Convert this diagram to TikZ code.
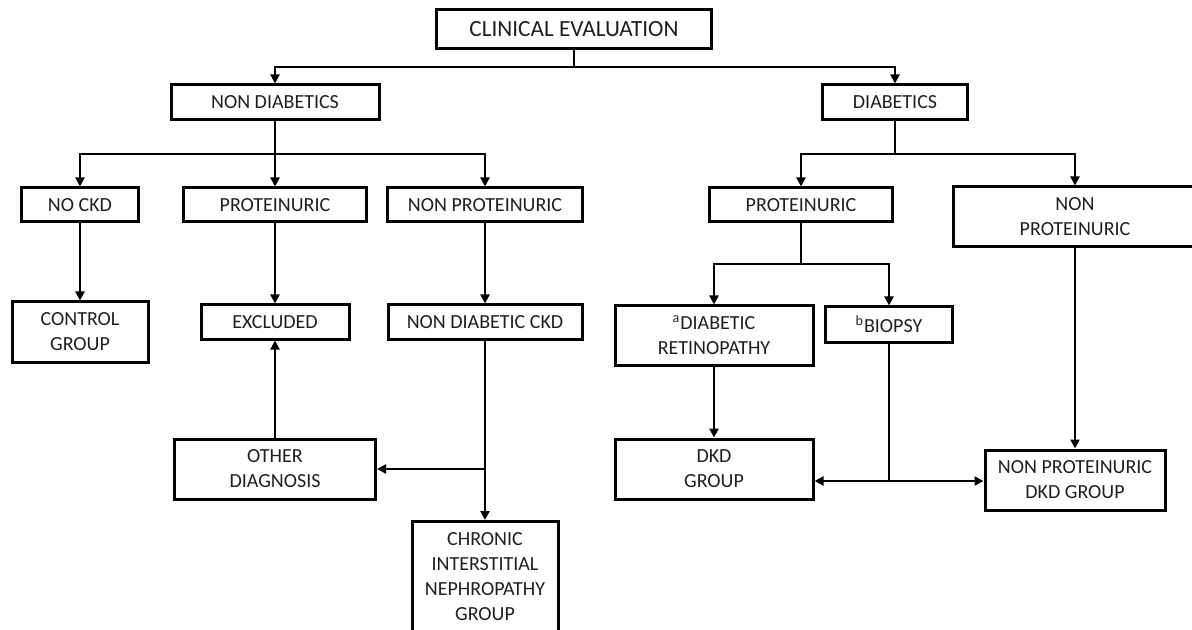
\documentclass[tikz,border=0pt]{standalone}
\usepackage{fontspec}
\setmainfont{Carlito}
\usetikzlibrary{arrows.meta}

\begin{document}
\begin{tikzpicture}[x=.5pt,y=-.5pt,font=\fontsize{10}{12.5}\selectfont,text=black!88,
  box/.style={draw,line width=1.5pt,align=center,inner sep=0pt},
  link/.style={line width=1.35pt,-{Triangle[length=4.5pt,width=4.5pt]}}]
\useasboundingbox (0,0) rectangle (1192,630);
\node[box,minimum width=137.5pt,minimum height=19.5pt,font=\fontsize{11.6}{14}\selectfont] (eval) at (574,29.5) {CLINICAL EVALUATION};
\node[box,minimum width=104pt,minimum height=17.5pt] (nondiab) at (275,102.5) {NON DIABETICS};
\node[box,minimum width=72.5pt,minimum height=17.5pt] (diab) at (895,102.5) {DIABETICS};
\node[box,minimum width=58.5pt,minimum height=17pt] (nockd) at (80,205) {NO CKD};
\node[box,minimum width=91.5pt,minimum height=17pt] (protL) at (275,205) {PROTEINURIC};
\node[box,minimum width=97.5pt,minimum height=17pt] (nonprotL) at (485,205) {NON PROTEINURIC};
\node[box,minimum width=91.5pt,minimum height=17pt] (protR) at (801,205) {PROTEINURIC};
\node[box,minimum width=122pt,minimum height=30pt] (nonprotR) at (1075,217) {NON\\PROTEINURIC};
\node[box,minimum width=68pt,minimum height=30pt] (control) at (80,332) {CONTROL\\GROUP};
\node[box,minimum width=74pt,minimum height=17pt] (excluded) at (275,322) {EXCLUDED};
\node[box,minimum width=97pt,minimum height=17pt] (ndckd) at (485,322) {NON DIABETIC CKD};
\node[box,minimum width=100.5pt,minimum height=30pt] (other) at (275,469) {OTHER\\DIAGNOSIS};
\node[box,minimum width=73pt,minimum height=55pt] (chronic) at (485,576.5) {CHRONIC\\INTERSTITIAL\\NEPHROPATHY\\GROUP};
\node[box,minimum width=99pt,minimum height=29.5pt] (retino) at (714,335.5) {\textsuperscript{a}DIABETIC\\RETINOPATHY};
\node[box,minimum width=63.5pt,minimum height=17.5pt] (biopsy) at (889,324.5) {\textsuperscript{b}BIOPSY};
\node[box,minimum width=99pt,minimum height=30pt] (dkd) at (714,469) {DKD\\GROUP};
\node[box,minimum width=90pt,minimum height=30pt] (npdkd) at (1075,480) {NON PROTEINURIC\\DKD GROUP};
\coordinate (jtop) at (574,67);\coordinate (jnd) at (275,154);\coordinate (jd) at (895,154);
\coordinate (jpr) at (801,264);\coordinate (jcd) at (485,469);\coordinate (jbx) at (889,481);
\draw[line width=1.35pt] (eval.south)--(jtop);
\draw[link] (jtop)-|(nondiab.north);\draw[link] (jtop)-|(diab.north);
\draw[line width=1.35pt] (nondiab.south)--(jnd);
\draw[link] (jnd)-|(nockd.north);\draw[link] (jnd)--(protL.north);\draw[link] (jnd)-|(nonprotL.north);
\draw[link] (nockd)--(control);\draw[link] (protL)--(excluded);\draw[link] (nonprotL)--(ndckd);
\draw[link] (ndckd)--(chronic);\draw[link] (jcd)--(other.east);\draw[link] (other)--(excluded);
\draw[line width=1.35pt] (diab.south)--(jd);
\draw[link] (jd)-|(protR.north);\draw[link] (jd)-|(nonprotR.north);
\draw[line width=1.35pt] (protR.south)--(jpr);
\draw[link] (jpr)-|(retino.north);\draw[link] (jpr)-|(biopsy.north);
\draw[link] (retino)--(dkd);\draw[link] (nonprotR)--(npdkd);
\draw[line width=1.35pt] (biopsy.south)--(jbx);
\draw[link] (jbx)--(jbx-|dkd.east);\draw[link] (jbx)--(jbx-|npdkd.west);
\end{tikzpicture}
\end{document}
